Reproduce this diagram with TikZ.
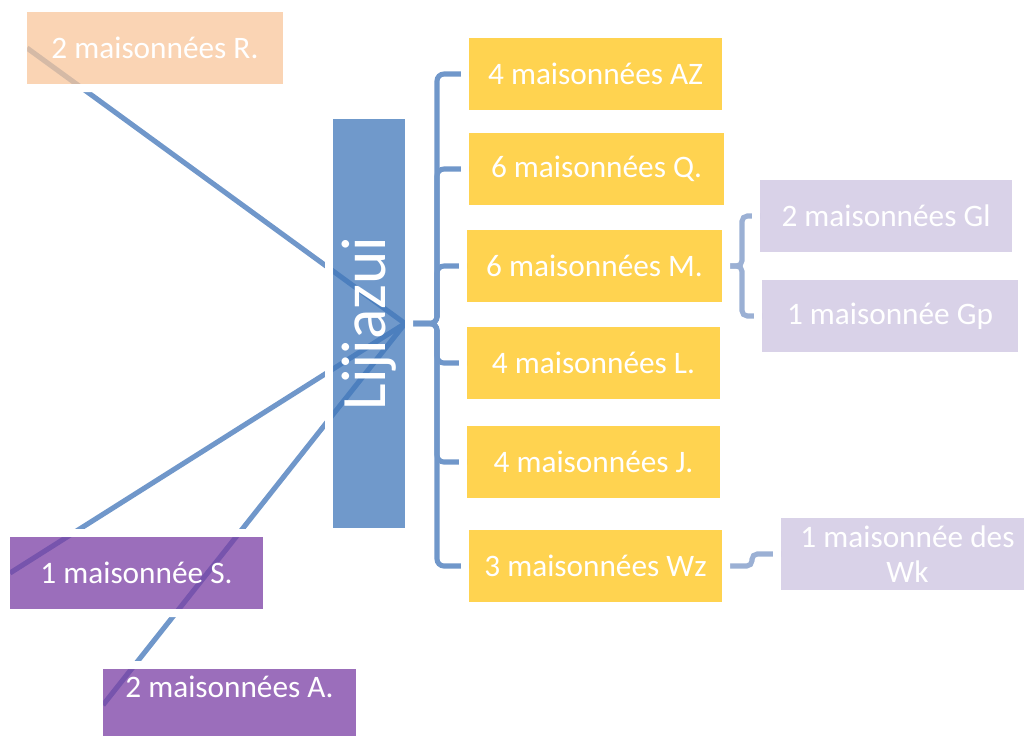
\documentclass[tikz,border=0pt]{standalone}
\usepackage{fontspec}
\setmainfont{Carlito}
\usepackage{xcolor}
\usepackage{tikz}
\usetikzlibrary{positioning,calc}

\definecolor{lineblue}{RGB}{112,151,202}
\definecolor{palelink}{RGB}{155,176,212}
\definecolor{peach}{RGB}{248,198,155}
\definecolor{rootblue}{RGB}{64,119,186}
\definecolor{gold}{RGB}{255,196,22}
\definecolor{lilac}{RGB}{204,195,224}
\definecolor{plum}{RGB}{122,62,164}

\newcommand{\pxu}{0.02cm}
\pgfdeclarelayer{links}
\pgfdeclarelayer{halo}
\pgfsetlayers{links,halo,main}

\begin{document}
\begin{tikzpicture}[
    x=\pxu, y=-\pxu,
    box/.style={rectangle, minimum width=253*\pxu, minimum height=72*\pxu, inner sep=0pt, outer sep=0pt, text=white, fill opacity=0.75, text opacity=1, font=\fontsize{17.8}{19.5}\selectfont},
    link/.style={line width=2.9pt, draw=lineblue},
    sublink/.style={line width=2.9pt, draw=palelink, rounded corners=3pt}
]
\useasboundingbox (0,0) rectangle (1024,735);

% Root
\node[box, fill=rootblue, minimum width=72*\pxu, minimum height=409*\pxu, font=\fontsize{36}{40}\selectfont] (lij) at (369,323.5) {\rotatebox{90}{Lijiazui}};

% Households
\node[box, fill=gold] (az) at (595.5,74) {4 maisonnées AZ};
\node[box, fill=gold, minimum width=255*\pxu] (q) at (596.5,169) {6 maisonnées Q.};
\node[box, fill=gold, minimum width=255*\pxu] (m) at (594.5,266) {6 maisonnées M.};
\node[box, fill=gold] (l) at (593.5,363) {4 maisonnées L.};
\node[box, fill=gold] (j) at (593.5,462) {4 maisonnées J.};
\node[box, fill=gold] (wz) at (595.5,566) {3 maisonnées Wz};

% Sub-households
\node[box, fill=lilac, minimum width=252*\pxu] (gl) at (886,216) {2 maisonnées Gl};
\node[box, fill=lilac, minimum width=256*\pxu] (gp) at (890,316) {1 maisonnée Gp};
\node[box, fill=lilac, align=center] (wk) at (907.5,554) {1 maisonnée des\\Wk};

% Outside
\node[box, fill=peach, minimum width=256*\pxu] (r) at (155,48) {2 maisonnées R.};
\node[box, fill=plum] (s) at (136.5,573) {1 maisonnée S.};
\node[box, fill=plum, text height=12pt, text depth=21pt] (a) at (229.5,705) {2 maisonnées A.};

% Halos
\begin{pgfonlayer}{halo}
\foreach \n in {lij,az,q,m,l,j,wz,gl,gp,wk,r,s,a}
  \fill[white, even odd rule] ([shift={(-8,-8)}]\n.north west) rectangle ([shift={(8,8)}]\n.south east)
    (\n.north west) rectangle (\n.south east);
\end{pgfonlayer}

% Links
\begin{pgfonlayer}{links}
\draw[link] (lij.east) -- (r.west);
\draw[link] (lij.east) -- (s.west);
\draw[link] (lij.east) -- (a.west);
\foreach \k in {az,q,m,l,j,wz}
  \draw[link, rounded corners=4pt] (lij.east) -- ++(32,0) |- (\k.west);
\draw[sublink] (m.east) -- ++(20,0) |- (gl.west);
\draw[sublink] (m.east) -- ++(20,0) |- (gp.west);
\draw[sublink] (wz.east) -- ++(30,0) |- (wk.west);
\end{pgfonlayer}

\end{tikzpicture}
\end{document}
